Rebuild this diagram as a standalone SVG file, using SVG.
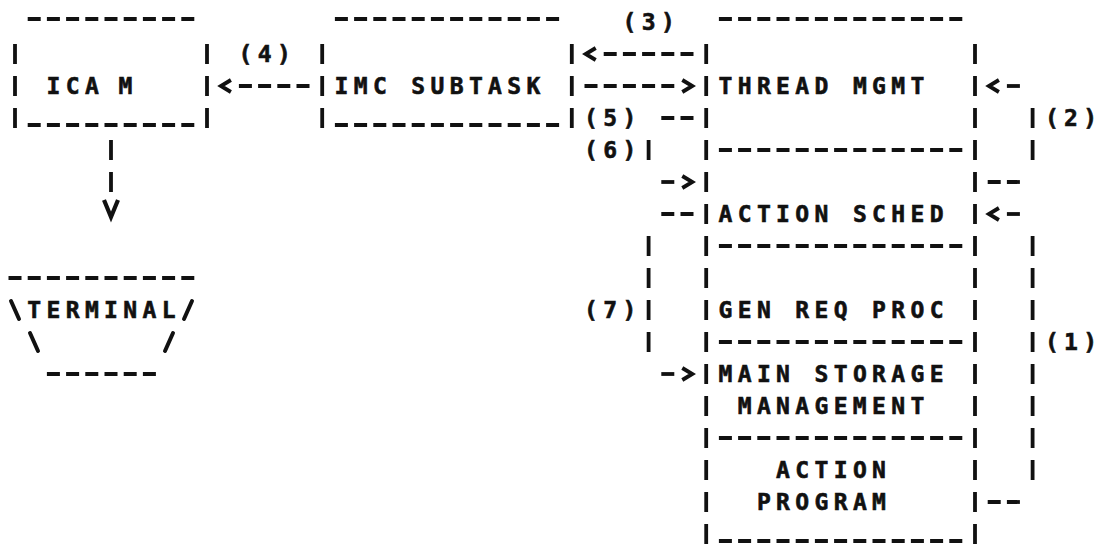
<svg xmlns="http://www.w3.org/2000/svg" width="1102" height="552" viewBox="0 0 1102 552">
  <style>
    .h { stroke:#111; stroke-width:3.8; stroke-dasharray:13 6.2; fill:none; }
    .v { stroke:#111; stroke-width:3.8; stroke-dasharray:20 12; fill:none; }
    .s { stroke:#111; stroke-width:4; fill:none; stroke-linecap:round; }
    .t { font-family:"DejaVu Sans Mono","Liberation Mono",monospace; font-weight:bold; font-size:23px; letter-spacing:5.35px; fill:#111; stroke:#111; stroke-width:0.6; }
    .arr { marker-end:url(#chev); }
  </style>
  <defs>
    <marker id="chev" markerUnits="userSpaceOnUse" orient="auto" refX="0" refY="0" markerWidth="30" markerHeight="20" overflow="visible">
      <path d="M8,-6 L18,0 L8,6" fill="none" stroke="#111" stroke-width="3.8" stroke-dasharray="none" stroke-linejoin="miter"/>
    </marker>
    <marker id="vhead" markerUnits="userSpaceOnUse" orient="auto" refX="0" refY="0" markerWidth="30" markerHeight="20" overflow="visible">
      <path d="M8,-7 L25,0 L8,7" fill="none" stroke="#111" stroke-width="4.2" stroke-dasharray="none"/>
    </marker>
  </defs>
  <rect width="1102" height="552" fill="#fff"/>

  <g id="icam">
    <line class="h" x1="27.7" y1="19" x2="194.3" y2="19"/>
    <line class="h" x1="27.7" y1="125" x2="194.3" y2="125"/>
    <line class="v" x1="15" y1="44" x2="15" y2="128"/>
    <line class="v" x1="207" y1="44" x2="207" y2="128"/>
    <text class="t" x="46.5 65.7 84.9 118.5" y="94">ICAM</text>
  </g>

  <g id="imc-subtask">
    <line class="h" x1="334.9" y1="19" x2="559.1" y2="19"/>
    <line class="h" x1="334.9" y1="125" x2="559.1" y2="125"/>
    <line class="v" x1="322.2" y1="44" x2="322.2" y2="128"/>
    <line class="v" x1="571.8" y1="44" x2="571.8" y2="128"/>
    <text class="t" x="334.5" y="94">IMC SUBTASK</text>
  </g>

  <g id="stack">
    <line class="h" x1="718.9" y1="19" x2="962.3" y2="19"/>
    <line class="h" x1="718.9" y1="150" x2="962.3" y2="150"/>
    <line class="h" x1="718.9" y1="246" x2="962.3" y2="246"/>
    <line class="h" x1="718.9" y1="342" x2="962.3" y2="342"/>
    <line class="h" x1="718.9" y1="438" x2="962.3" y2="438"/>
    <line class="h" x1="718.9" y1="541" x2="962.3" y2="541"/>
    <line class="v" x1="706.2" y1="44" x2="706.2" y2="544"/>
    <line class="v" x1="975" y1="44" x2="975" y2="544"/>
    <g id="thread-mgmt"><text class="t" x="718.5" y="94">THREAD MGMT</text></g>
    <g id="action-sched"><text class="t" x="718.5" y="222">ACTION SCHED</text></g>
    <g id="gen-req-proc"><text class="t" x="718.5" y="318">GEN REQ PROC</text></g>
    <g id="main-storage">
      <text class="t" x="718.5" y="382">MAIN STORAGE</text>
      <text class="t" x="737.7" y="414">MANAGEMENT</text>
    </g>
    <g id="action-program">
      <text class="t" x="776.1" y="478">ACTION</text>
      <text class="t" x="756.9" y="510">PROGRAM</text>
    </g>
  </g>

  <g id="terminal">
    <line class="h" x1="8.5" y1="278" x2="194.3" y2="278"/>
    <path class="s" d="M11,301 L19,319 M30,333 L38,351 M192,301 L184,319 M173,333 L165,351"/>
    <text class="t" x="27.3" y="318">TERMINAL</text>
    <line class="h" x1="46.9" y1="374" x2="155.9" y2="374"/>
  </g>

  <g id="connectors">
    <!-- ICAM to TERMINAL -->
    <line class="v" x1="111" y1="140" x2="111" y2="192" marker-end="url(#vhead)"/>
    <!-- (4) -->
    <line class="h arr" x1="309.5" y1="86" x2="238.9" y2="86"/>
    <text class="t" x="238.5" y="62">(4)</text>
    <!-- (3) -->
    <line class="h arr" x1="693.5" y1="54" x2="603.7" y2="54"/>
    <line class="h arr" x1="584.5" y1="86" x2="674.3" y2="86"/>
    <text class="t" x="622.5" y="30">(3)</text>
    <!-- (5)/(6) -->
    <line class="h" x1="693.5" y1="118" x2="661.3" y2="118"/>
    <line class="v" x1="648.6" y1="140" x2="648.6" y2="160"/>
    <line class="h arr" x1="661.3" y1="182" x2="674.3" y2="182"/>
    <text class="t" x="584.1" y="126">(5)</text>
    <text class="t" x="584.1" y="158">(6)</text>
    <!-- (7) -->
    <line class="h" x1="693.5" y1="214" x2="661.3" y2="214"/>
    <line class="v" x1="648.6" y1="236" x2="648.6" y2="352"/>
    <line class="h arr" x1="661.3" y1="374" x2="674.3" y2="374"/>
    <text class="t" x="584.1" y="318">(7)</text>
    <!-- (2) -->
    <line class="h" x1="987.7" y1="182" x2="1019.9" y2="182"/>
    <line class="v" x1="1032.6" y1="108" x2="1032.6" y2="160"/>
    <line class="h arr" x1="1019.9" y1="86" x2="1006.9" y2="86"/>
    <text class="t" x="1044.9" y="126">(2)</text>
    <!-- (1) -->
    <line class="h" x1="987.7" y1="502" x2="1019.9" y2="502"/>
    <line class="v" x1="1032.6" y1="236" x2="1032.6" y2="480"/>
    <line class="h arr" x1="1019.9" y1="214" x2="1006.9" y2="214"/>
    <text class="t" x="1044.9" y="350">(1)</text>
  </g>
</svg>
